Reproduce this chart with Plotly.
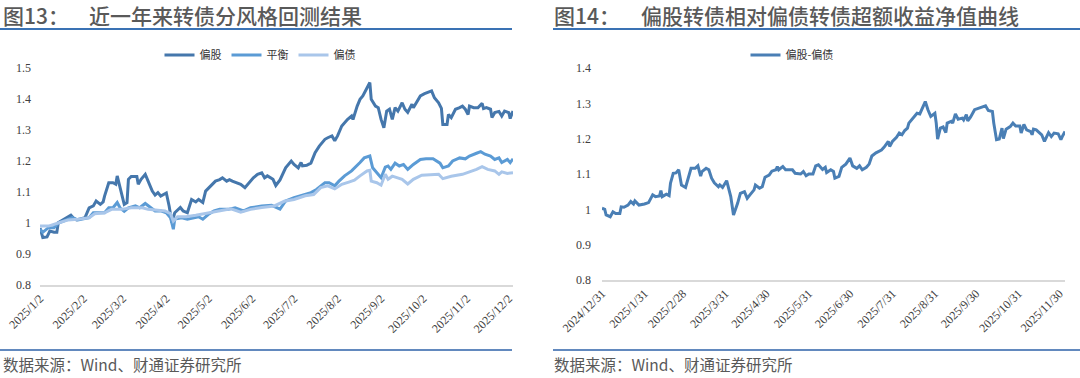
import plotly.graph_objects as go

# ---------------- Left panel: 偏股 / 平衡 / 偏债 ----------------
growth_dates = [
    "2025-01-02", "2025-01-04", "2025-01-07", "2025-01-09", "2025-01-12", "2025-01-14", "2025-01-15",
    "2025-01-20", "2025-01-22", "2025-01-24", "2025-01-26", "2025-01-28", "2025-02-03", "2025-02-06",
    "2025-02-09", "2025-02-11", "2025-02-14", "2025-02-16", "2025-02-17", "2025-02-20", "2025-02-23",
    "2025-02-25", "2025-02-26", "2025-02-28", "2025-03-03", "2025-03-05", "2025-03-06", "2025-03-08",
    "2025-03-12", "2025-03-13", "2025-03-15", "2025-03-18", "2025-03-20", "2025-03-23", "2025-03-25",
    "2025-03-27", "2025-03-29", "2025-03-31", "2025-04-02", "2025-04-04", "2025-04-06", "2025-04-08",
    "2025-04-12", "2025-04-14", "2025-04-17", "2025-04-20", "2025-04-23", "2025-04-25", "2025-04-28",
    "2025-04-30", "2025-05-04", "2025-05-07", "2025-05-10", "2025-05-12", "2025-05-15", "2025-05-17",
    "2025-05-19", "2025-05-22", "2025-05-25", "2025-05-28", "2025-05-30", "2025-06-03", "2025-06-06",
    "2025-06-09", "2025-06-11", "2025-06-13", "2025-06-17", "2025-06-19", "2025-06-22", "2025-06-24",
    "2025-06-26", "2025-06-30", "2025-07-02", "2025-07-05", "2025-07-07", "2025-07-08", "2025-07-11",
    "2025-07-14", "2025-07-17", "2025-07-20", "2025-07-24", "2025-07-26", "2025-07-29", "2025-07-31",
    "2025-08-02", "2025-08-05", "2025-08-07", "2025-08-09", "2025-08-12", "2025-08-13", "2025-08-16",
    "2025-08-18", "2025-08-20", "2025-08-23", "2025-08-25", "2025-08-26", "2025-08-29", "2025-08-31",
    "2025-09-02", "2025-09-04", "2025-09-06", "2025-09-08", "2025-09-10", "2025-09-12", "2025-09-14",
    "2025-09-17", "2025-09-19", "2025-09-21", "2025-09-24", "2025-09-25", "2025-09-27", "2025-09-30",
    "2025-10-03", "2025-10-08", "2025-10-10", "2025-10-13", "2025-10-15", "2025-10-16", "2025-10-19",
    "2025-10-20", "2025-10-22", "2025-10-25", "2025-10-28", "2025-10-30", "2025-11-01", "2025-11-03",
    "2025-11-04", "2025-11-07", "2025-11-10", "2025-11-13", "2025-11-14", "2025-11-16", "2025-11-19",
    "2025-11-20", "2025-11-22", "2025-11-25", "2025-11-27", "2025-11-29", "2025-12-02", "2025-12-03",
    "2025-12-05",
]
growth_values = [
    0.984, 0.953, 0.955, 0.974, 0.970, 0.970, 1.001,
    1.013, 1.020, 1.025, 1.015, 1.010, 1.017, 1.049,
    1.055, 1.071, 1.060, 1.068, 1.087, 1.130, 1.130,
    1.125, 1.152, 1.114, 1.060, 1.066, 1.141, 1.150,
    1.150, 1.125, 1.141, 1.157, 1.135, 1.103, 1.090,
    1.098, 1.087, 1.092, 1.097, 1.055, 1.001, 1.033,
    1.050, 1.039, 1.033, 1.076, 1.068, 1.076, 1.066,
    1.103, 1.120, 1.135, 1.140, 1.146, 1.135, 1.140,
    1.135, 1.130, 1.125, 1.114, 1.125, 1.146, 1.157,
    1.162, 1.146, 1.152, 1.141, 1.121, 1.139, 1.157,
    1.178, 1.200, 1.189, 1.178, 1.195, 1.184, 1.186,
    1.193, 1.227, 1.248, 1.270, 1.275, 1.281, 1.265,
    1.281, 1.313, 1.324, 1.334, 1.345, 1.334, 1.377,
    1.399, 1.410, 1.437, 1.453, 1.399, 1.377, 1.372,
    1.334, 1.307, 1.361, 1.367, 1.334, 1.372, 1.361,
    1.388, 1.367, 1.357, 1.383, 1.372, 1.388, 1.410,
    1.417, 1.426, 1.404, 1.388, 1.370, 1.318, 1.318,
    1.350, 1.340, 1.367, 1.372, 1.377, 1.367, 1.350,
    1.377, 1.372, 1.372, 1.386, 1.369, 1.372, 1.367,
    1.340, 1.356, 1.360, 1.345, 1.361, 1.356, 1.337,
    1.361,
]

balanced_dates = [
    "2025-01-02", "2025-01-04", "2025-01-08", "2025-01-12", "2025-01-15", "2025-01-22", "2025-01-25",
    "2025-01-29", "2025-02-06", "2025-02-09", "2025-02-14", "2025-02-17", "2025-02-20", "2025-02-23",
    "2025-02-26", "2025-02-28", "2025-03-03", "2025-03-06", "2025-03-11", "2025-03-14", "2025-03-18",
    "2025-03-22", "2025-03-25", "2025-03-29", "2025-04-02", "2025-04-05", "2025-04-07", "2025-04-08",
    "2025-04-13", "2025-04-17", "2025-04-22", "2025-04-25", "2025-04-28", "2025-05-02", "2025-05-06",
    "2025-05-10", "2025-05-16", "2025-05-21", "2025-05-27", "2025-06-01", "2025-06-09", "2025-06-16",
    "2025-06-22", "2025-06-26", "2025-07-02", "2025-07-10", "2025-07-14", "2025-07-18", "2025-07-24",
    "2025-07-27", "2025-07-31", "2025-08-03", "2025-08-07", "2025-08-12", "2025-08-16", "2025-08-18",
    "2025-08-21", "2025-08-25", "2025-08-27", "2025-08-30", "2025-09-02", "2025-09-05", "2025-09-07",
    "2025-09-09", "2025-09-12", "2025-09-15", "2025-09-18", "2025-09-21", "2025-09-25", "2025-09-30",
    "2025-10-04", "2025-10-09", "2025-10-14", "2025-10-16", "2025-10-20", "2025-10-23", "2025-10-28",
    "2025-11-01", "2025-11-04", "2025-11-09", "2025-11-12", "2025-11-15", "2025-11-19", "2025-11-22",
    "2025-11-25", "2025-11-27", "2025-12-01", "2025-12-03", "2025-12-05",
]
balanced_values = [
    0.980, 0.970, 0.985, 0.985, 1.000, 1.012, 1.017,
    1.010, 1.017, 1.033, 1.033, 1.033, 1.049, 1.049,
    1.066, 1.049, 1.038, 1.049, 1.055, 1.049, 1.063,
    1.049, 1.039, 1.039, 1.033, 1.017, 0.980, 1.013,
    1.017, 1.012, 1.017, 1.020, 1.012, 1.028, 1.039,
    1.044, 1.044, 1.049, 1.039, 1.049, 1.055, 1.057,
    1.045, 1.071, 1.082, 1.092, 1.098, 1.108, 1.130,
    1.130, 1.120, 1.135, 1.152, 1.168, 1.184, 1.195,
    1.210, 1.216, 1.178, 1.162, 1.146, 1.180, 1.184,
    1.173, 1.193, 1.184, 1.189, 1.173, 1.189, 1.205,
    1.207, 1.207, 1.193, 1.178, 1.184, 1.200, 1.210,
    1.207, 1.216, 1.225, 1.230, 1.222, 1.216, 1.205,
    1.210, 1.195, 1.205, 1.195, 1.207,
]

bond_dates = [
    "2025-01-02", "2025-01-08", "2025-01-15", "2025-01-22", "2025-01-29", "2025-02-06", "2025-02-10",
    "2025-02-17", "2025-02-22", "2025-03-01", "2025-03-08", "2025-03-16", "2025-03-20", "2025-03-25",
    "2025-04-01", "2025-04-05", "2025-04-07", "2025-04-10", "2025-04-16", "2025-04-23", "2025-05-02",
    "2025-05-11", "2025-05-18", "2025-05-25", "2025-06-01", "2025-06-09", "2025-06-18", "2025-06-25",
    "2025-07-02", "2025-07-10", "2025-07-16", "2025-07-21", "2025-07-26", "2025-07-31", "2025-08-05",
    "2025-08-10", "2025-08-14", "2025-08-18", "2025-08-23", "2025-08-25", "2025-08-26", "2025-08-30",
    "2025-09-02", "2025-09-05", "2025-09-07", "2025-09-10", "2025-09-13", "2025-09-17", "2025-09-21",
    "2025-09-25", "2025-10-01", "2025-10-08", "2025-10-13", "2025-10-16", "2025-10-22", "2025-10-30",
    "2025-11-04", "2025-11-09", "2025-11-13", "2025-11-17", "2025-11-22", "2025-11-25", "2025-11-27",
    "2025-12-01", "2025-12-05",
]
bond_values = [
    0.990, 0.990, 1.000, 1.010, 1.012, 1.017, 1.030,
    1.033, 1.044, 1.044, 1.049, 1.049, 1.044, 1.042,
    1.039, 1.030, 1.006, 1.020, 1.020, 1.025, 1.033,
    1.042, 1.046, 1.035, 1.044, 1.050, 1.055, 1.070,
    1.076, 1.088, 1.092, 1.114, 1.120, 1.110, 1.125,
    1.132, 1.138, 1.152, 1.168, 1.170, 1.135, 1.130,
    1.122, 1.157, 1.141, 1.151, 1.146, 1.141, 1.126,
    1.141, 1.154, 1.157, 1.157, 1.143, 1.151, 1.157,
    1.165, 1.173, 1.182, 1.173, 1.168, 1.157, 1.165,
    1.160, 1.162,
]

left_tick_dates = [
    "2025-01-02", "2025-02-02", "2025-03-02", "2025-04-02", "2025-05-02", "2025-06-02",
    "2025-07-02", "2025-08-02", "2025-09-02", "2025-10-02", "2025-11-02", "2025-12-02",
]
left_tick_labels = [
    "2025/1/2", "2025/2/2", "2025/3/2", "2025/4/2", "2025/5/2", "2025/6/2",
    "2025/7/2", "2025/8/2", "2025/9/2", "2025/10/2", "2025/11/2", "2025/12/2",
]
left_y_ticks = [0.8, 0.9, 1.0, 1.1, 1.2, 1.3, 1.4, 1.5]
left_y_labels = ["0.8", "0.9", "1", "1.1", "1.2", "1.3", "1.4", "1.5"]

# ---------------- Right panel: 偏股-偏债 ----------------
excess_dates = [
    "2024-12-31", "2025-01-02", "2025-01-03", "2025-01-06", "2025-01-08", "2025-01-10", "2025-01-13",
    "2025-01-14", "2025-01-16", "2025-01-19", "2025-01-21", "2025-01-23", "2025-01-24", "2025-01-27",
    "2025-01-31", "2025-02-03", "2025-02-06", "2025-02-08", "2025-02-11", "2025-02-12", "2025-02-13",
    "2025-02-16", "2025-02-18", "2025-02-19", "2025-02-21", "2025-02-23", "2025-02-25", "2025-02-27",
    "2025-03-02", "2025-03-04", "2025-03-06", "2025-03-09", "2025-03-11", "2025-03-13", "2025-03-14",
    "2025-03-17", "2025-03-19", "2025-03-21", "2025-03-23", "2025-03-26", "2025-03-27", "2025-03-29",
    "2025-03-31", "2025-04-01", "2025-04-04", "2025-04-06", "2025-04-09", "2025-04-11", "2025-04-14",
    "2025-04-16", "2025-04-18", "2025-04-21", "2025-04-22", "2025-04-25", "2025-04-27", "2025-04-29",
    "2025-05-02", "2025-05-04", "2025-05-07", "2025-05-08", "2025-05-09", "2025-05-12", "2025-05-14",
    "2025-05-16", "2025-05-19", "2025-05-21", "2025-05-25", "2025-05-27", "2025-05-29", "2025-05-31",
    "2025-06-03", "2025-06-05", "2025-06-07", "2025-06-10", "2025-06-12", "2025-06-13", "2025-06-16",
    "2025-06-18", "2025-06-19", "2025-06-22", "2025-06-24", "2025-06-27", "2025-06-30", "2025-07-02",
    "2025-07-05", "2025-07-07", "2025-07-09", "2025-07-12", "2025-07-14", "2025-07-16", "2025-07-19",
    "2025-07-23", "2025-07-25", "2025-07-28", "2025-07-29", "2025-07-31", "2025-08-03", "2025-08-05",
    "2025-08-07", "2025-08-09", "2025-08-11", "2025-08-12", "2025-08-15", "2025-08-18", "2025-08-20",
    "2025-08-22", "2025-08-24", "2025-08-26", "2025-08-28", "2025-08-31", "2025-09-01", "2025-09-02",
    "2025-09-04", "2025-09-06", "2025-09-08", "2025-09-09", "2025-09-12", "2025-09-13", "2025-09-15",
    "2025-09-17", "2025-09-20", "2025-09-21", "2025-09-23", "2025-09-24", "2025-09-26", "2025-09-29",
    "2025-10-02", "2025-10-07", "2025-10-09", "2025-10-12", "2025-10-13", "2025-10-15", "2025-10-17",
    "2025-10-19", "2025-10-20", "2025-10-22", "2025-10-25", "2025-10-27", "2025-10-29", "2025-11-01",
    "2025-11-02", "2025-11-04", "2025-11-06", "2025-11-09", "2025-11-10", "2025-11-11", "2025-11-13",
    "2025-11-15", "2025-11-17", "2025-11-19", "2025-11-22", "2025-11-24", "2025-11-26", "2025-11-29",
    "2025-12-01", "2025-12-02", "2025-12-04",
]
excess_values = [
    1.003, 1.000, 0.984, 0.979, 0.993, 0.988, 0.988,
    1.007, 1.006, 1.012, 1.022, 1.015, 1.024, 1.012,
    1.015, 1.019, 1.041, 1.036, 1.038, 1.053, 1.036,
    1.043, 1.039, 1.074, 1.102, 1.103, 1.112, 1.069,
    1.062, 1.088, 1.116, 1.116, 1.123, 1.094, 1.107,
    1.116, 1.112, 1.088, 1.075, 1.064, 1.069, 1.062,
    1.074, 1.081, 1.036, 0.984, 1.017, 1.045, 1.050,
    1.031, 1.041, 1.055, 1.069, 1.060, 1.064, 1.091,
    1.097, 1.108, 1.112, 1.121, 1.112, 1.121, 1.112,
    1.112, 1.112, 1.102, 1.100, 1.107, 1.095, 1.100,
    1.100, 1.123, 1.126, 1.113, 1.119, 1.104, 1.112,
    1.107, 1.088, 1.093, 1.119, 1.128, 1.145, 1.123,
    1.116, 1.123, 1.112, 1.119, 1.128, 1.151, 1.160,
    1.168, 1.176, 1.192, 1.178, 1.192, 1.204, 1.216,
    1.211, 1.223, 1.230, 1.244, 1.258, 1.272, 1.270,
    1.287, 1.305, 1.281, 1.263, 1.272, 1.244, 1.199,
    1.230, 1.233, 1.217, 1.244, 1.249, 1.244, 1.270,
    1.255, 1.258, 1.253, 1.268, 1.250, 1.261, 1.282,
    1.287, 1.293, 1.280, 1.277, 1.244, 1.197, 1.199,
    1.230, 1.200, 1.227, 1.234, 1.244, 1.236, 1.236,
    1.216, 1.240, 1.225, 1.220, 1.211, 1.227, 1.225,
    1.218, 1.211, 1.192, 1.217, 1.206, 1.216, 1.214,
    1.197, 1.206, 1.220,
]

right_tick_dates = [
    "2024-12-31", "2025-01-31", "2025-02-28", "2025-03-31", "2025-04-30", "2025-05-31",
    "2025-06-30", "2025-07-31", "2025-08-31", "2025-09-30", "2025-10-31", "2025-11-30",
]
right_tick_labels = [
    "2024/12/31", "2025/1/31", "2025/2/28", "2025/3/31", "2025/4/30", "2025/5/31",
    "2025/6/30", "2025/7/31", "2025/8/31", "2025/9/30", "2025/10/31", "2025/11/30",
]
right_y_ticks = [0.8, 0.9, 1.0, 1.1, 1.2, 1.3, 1.4]
right_y_labels = ["0.8", "0.9", "1", "1.1", "1.2", "1.3", "1.4"]

# ---------------- figure ----------------
W, H = 1080, 378


def px_x(x):
    return x / W


def px_y(y):
    return (H - y) / H


CJK = "Noto Sans CJK SC"
SERIF = "Liberation Serif, Times New Roman, serif"
TICK_COLOR = "#404040"

fig = go.Figure()

fig.add_trace(go.Scatter(x=growth_dates, y=growth_values, name="偏股", mode="lines",
                         line=dict(color="#4577AC", width=3), xaxis="x", yaxis="y", legend="legend"))
fig.add_trace(go.Scatter(x=balanced_dates, y=balanced_values, name="平衡", mode="lines",
                         line=dict(color="#5B9BD5", width=3), xaxis="x", yaxis="y", legend="legend"))
fig.add_trace(go.Scatter(x=bond_dates, y=bond_values, name="偏债", mode="lines",
                         line=dict(color="#A9C6EA", width=3), xaxis="x", yaxis="y", legend="legend"))
fig.add_trace(go.Scatter(x=excess_dates, y=excess_values, name="偏股-偏债", mode="lines",
                         line=dict(color="#4A7FB5", width=3), xaxis="x2", yaxis="y2", legend="legend2"))

tickfont = dict(family=SERIF, size=12, color=TICK_COLOR)

fig.update_layout(
    template="none",
    width=W, height=H,
    margin=dict(l=0, r=0, t=0, b=0, pad=0, autoexpand=False),
    paper_bgcolor="white", plot_bgcolor="white",
    showlegend=True,
    xaxis=dict(domain=[px_x(40), px_x(513)], type="date",
               range=[left_tick_dates[0], growth_dates[-1]],
               tickvals=left_tick_dates, ticktext=left_tick_labels, tickangle=-45,
               tickfont=tickfont, showgrid=False, zeroline=False, automargin=False,
               showline=True, linecolor="#D9D9D9", linewidth=1.5, ticks="",
               anchor="y"),
    yaxis=dict(domain=[px_y(285), px_y(68)], range=[0.8, 1.5],
               tickvals=left_y_ticks, ticktext=left_y_labels, tickfont=tickfont,
               showgrid=False, zeroline=False, showline=False, ticks="", automargin=False,
               ticklabelstandoff=8, anchor="x"),
    xaxis2=dict(domain=[px_x(602), px_x(1065)], type="date",
                range=[right_tick_dates[0], excess_dates[-1]],
                tickvals=right_tick_dates, ticktext=right_tick_labels, tickangle=-45,
                tickfont=tickfont, showgrid=False, zeroline=False, automargin=False,
                showline=True, linecolor="#D9D9D9", linewidth=1.5, ticks="",
                anchor="y2"),
    yaxis2=dict(domain=[px_y(280), px_y(68)], range=[0.8, 1.4],
                tickvals=right_y_ticks, ticktext=right_y_labels, tickfont=tickfont,
                showgrid=False, zeroline=False, showline=False, ticks="", automargin=False,
                ticklabelstandoff=10, anchor="x2"),
    legend=dict(orientation="h", x=px_x(260), xanchor="center", y=px_y(55), yanchor="middle",
                font=dict(family=CJK, size=11, color="#333333"), bgcolor="rgba(0,0,0,0)",
                itemwidth=30, tracegroupgap=0),
    legend2=dict(orientation="h", x=px_x(792), xanchor="center", y=px_y(55), yanchor="middle",
                 font=dict(family=CJK, size=11, color="#333333"), bgcolor="rgba(0,0,0,0)",
                 itemwidth=30),
)

title_font = dict(family=CJK, size=21, color="#595959", weight=500)
src_font = dict(family=CJK, size=15.5, color="#595959")

annotations = [
    dict(text="图13：", x=px_x(1), y=px_y(15), xanchor="left", yanchor="middle", font=title_font),
    dict(text="近一年来转债分风格回测结果", x=px_x(87), y=px_y(15), xanchor="left", yanchor="middle", font=title_font),
    dict(text="图14：", x=px_x(552), y=px_y(15), xanchor="left", yanchor="middle", font=title_font),
    dict(text="偏股转债相对偏债转债超额收益净值曲线", x=px_x(639), y=px_y(15), xanchor="left", yanchor="middle", font=title_font),
    dict(text="数据来源：Wind、财通证券研究所", x=px_x(1), y=px_y(364), xanchor="left", yanchor="middle", font=src_font),
    dict(text="数据来源：Wind、财通证券研究所", x=px_x(552), y=px_y(364), xanchor="left", yanchor="middle", font=src_font),
]
for a in annotations:
    a.update(xref="paper", yref="paper", showarrow=False)
fig.update_layout(annotations=annotations)

shapes = [
    dict(type="line", x0=px_x(0), x1=px_x(512), y0=px_y(29), y1=px_y(29), line=dict(color="#3A72B4", width=2)),
    dict(type="line", x0=px_x(553), x1=px_x(1080), y0=px_y(29), y1=px_y(29), line=dict(color="#3A72B4", width=2)),
    dict(type="line", x0=px_x(0), x1=px_x(512), y0=px_y(350), y1=px_y(350), line=dict(color="#2E62A8", width=1.5)),
    dict(type="line", x0=px_x(553), x1=px_x(1080), y0=px_y(350), y1=px_y(350), line=dict(color="#2E62A8", width=1.5)),
]
for s in shapes:
    s.update(xref="paper", yref="paper")
fig.update_layout(shapes=shapes)

fig.write_html("out.html", config={"displayModeBar": False},
               post_script="document.body.style.margin='0';document.body.style.overflow='hidden';")
